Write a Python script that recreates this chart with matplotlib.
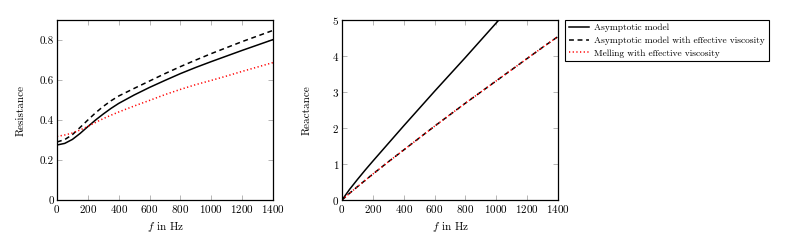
import numpy as np
import matplotlib.pyplot as plt

plt.rcParams['font.family'] = 'cmr10'
plt.rcParams['mathtext.fontset'] = 'cm'
plt.rcParams['axes.formatter.use_mathtext'] = True

# resistance panel
f_res = [0, 50, 100, 150, 200, 250, 300, 350, 400, 500, 600, 700, 800, 900, 1000, 1100, 1200, 1300, 1400]
res_asym = [0.275, 0.283, 0.303, 0.333, 0.367, 0.4, 0.43, 0.458, 0.483, 0.525, 0.563, 0.598, 0.632, 0.663, 0.692, 0.72, 0.748, 0.775, 0.802]
res_asym_visc = [0.29, 0.302, 0.327, 0.363, 0.4, 0.436, 0.468, 0.496, 0.52, 0.558, 0.595, 0.632, 0.667, 0.70, 0.732, 0.762, 0.792, 0.82, 0.848]
res_melling = [0.318, 0.325, 0.335, 0.35, 0.368, 0.388, 0.407, 0.424, 0.44, 0.47, 0.498, 0.527, 0.553, 0.577, 0.598, 0.62, 0.643, 0.665, 0.687]

# reactance panel
f_rea = [0, 50, 100, 150, 200, 300, 400, 500, 600, 700, 800, 900, 1000, 1100]
rea_asym = [0.0, 0.3, 0.57, 0.83, 1.08, 1.57, 2.06, 2.54, 3.02, 3.49, 3.96, 4.44, 4.92, 5.4]
f_rea2 = [0, 50, 100, 200, 300, 400, 500, 600, 700, 800, 900, 1000, 1100, 1200, 1300, 1400]
rea_asym_visc = [0.0, 0.19, 0.37, 0.72, 1.06, 1.39, 1.72, 2.05, 2.37, 2.69, 3.0, 3.31, 3.62, 3.93, 4.24, 4.54]
rea_melling = [0.0, 0.19, 0.37, 0.72, 1.06, 1.39, 1.72, 2.05, 2.37, 2.69, 3.0, 3.31, 3.62, 3.93, 4.24, 4.54]

labels = ["Asymptotic model", "Asymptotic model with effective viscosity", "Melling with effective viscosity"]

fig = plt.figure(figsize=(7.88, 2.46), dpi=100)
ax1 = fig.add_axes([57 / 788, 46 / 246, 216 / 788, 180 / 246])
ax2 = fig.add_axes([342 / 788, 46 / 246, 216 / 788, 180 / 246])

lw = 1.1
dash = (0, (3.2, 2.4))
dot = (0, (0.8, 1.6))
ax1.plot(f_res, res_asym, color='k', lw=lw, label=labels[0])
ax1.plot(f_res, res_asym_visc, color='k', lw=lw, ls=dash, label=labels[1])
ax1.plot(f_res, res_melling, color='red', lw=lw, ls=dot, label=labels[2])

ax2.plot(f_rea, rea_asym, color='k', lw=lw, label=labels[0])
ax2.plot(f_rea2, rea_asym_visc, color='k', lw=lw, ls=dash, label=labels[1])
ax2.plot(f_rea2, rea_melling, color='red', lw=lw, ls=dot, label=labels[2])

ax1.set_xlim(0, 1400)
ax1.set_ylim(0, 0.9)
ax1.set_yticks([0, 0.2, 0.4, 0.6, 0.8])
ax1.set_yticklabels(["0", "0.2", "0.4", "0.6", "0.8"])
ax1.set_ylabel("Resistance", fontsize=8, labelpad=10.5)

ax2.set_xlim(0, 1400)
ax2.set_ylim(0, 5)
ax2.set_yticks([0, 1, 2, 3, 4, 5])
ax2.set_ylabel("Reactance", fontsize=8, labelpad=15)

for ax in (ax1, ax2):
    ax.set_xticks(range(0, 1401, 200))
    ax.set_xlabel("$f$ in Hz", fontsize=8)
    ax.tick_params(direction='in', top=True, right=True, length=3.5, width=0.5,
                   color='0.6', labelsize=8, labelcolor='k', pad=2)
    for s in ax.spines.values():
        s.set_linewidth(0.9)

leg = ax2.legend(loc='upper left', bbox_to_anchor=(1.032, 1.0), fontsize=6.8,
                 frameon=True, fancybox=False, edgecolor='k', framealpha=1,
                 handlelength=2.2, handletextpad=0.5, labelspacing=0.42,
                 borderpad=0.4, borderaxespad=0)
leg.get_frame().set_linewidth(0.8)

fig.savefig("out.png", dpi=100)
